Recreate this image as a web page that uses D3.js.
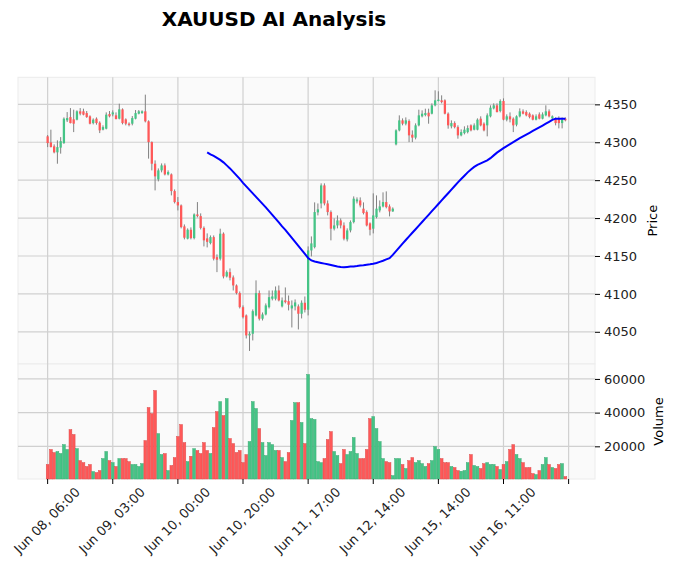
<!DOCTYPE html>
<html>
<head>
<meta charset="utf-8">
<script src="https://cdn.jsdelivr.net/npm/d3@7"></script>
<style>
    body { margin: 0; background: #ffffff; }
    text { font-family: "DejaVu Sans", sans-serif; }
</style>
</head>
<body>
<div id="chart"></div>
<script>
// hourly XAUUSD candles
const opens = [
    4307.8, 4299.8, 4294.6, 4286.7, 4292.9, 4298.9, 4328.9, 4333.2, 4330.2, 4329.8,
    4340.8, 4340.8, 4338.5, 4334.2, 4325.3, 4331.1, 4325.8, 4316.6, 4317.9, 4337.2,
    4336.8, 4335.5, 4331.1, 4343.4, 4330.2, 4324.5, 4324.5, 4331.1, 4337.7, 4338.5,
    4340.8, 4327.6, 4300.2, 4271.7, 4251.0, 4262.9, 4269.5, 4257.6, 4257.6, 4235.6,
    4221.1, 4216.7, 4189.0, 4172.8, 4184.6, 4173.6, 4204.8, 4202.6, 4187.0, 4173.2,
    4167.0, 4174.9, 4148.5, 4146.4, 4179.4, 4123.0, 4128.7, 4121.7, 4111.1, 4101.0,
    4082.5, 4071.6, 4045.2, 4047.4, 4071.6, 4101.0, 4067.2, 4072.9, 4082.5, 4093.6,
    4093.6, 4104.5, 4083.5, 4091.4, 4090.4, 4080.8, 4083.5, 4083.5, 4073.8, 4088.3,
    4079.1, 4157.3, 4161.7, 4207.5, 4219.3, 4243.1, 4219.3, 4207.9, 4186.0, 4190.3,
    4196.9, 4190.3, 4171.9, 4183.7, 4194.7, 4222.0, 4223.3, 4212.4, 4207.9, 4193.0,
    4186.0, 4201.3, 4210.1, 4215.4, 4221.1, 4215.4, 4208.8, 4297.2, 4315.7, 4328.9,
    4324.5, 4328.0, 4310.0, 4306.1, 4322.3, 4334.2, 4335.9, 4339.0, 4337.7, 4348.7,
    4354.4, 4355.3, 4355.3, 4337.7, 4321.0, 4325.3, 4320.0, 4309.1, 4312.1, 4313.4,
    4322.3, 4316.6, 4316.6, 4331.1, 4324.5, 4322.3, 4334.2, 4344.7, 4348.7, 4341.2,
    4354.4, 4329.8, 4334.2, 4331.1, 4323.2, 4334.2, 4340.8, 4339.8, 4337.7, 4335.5,
    4329.8, 4336.8, 4331.1, 4335.5, 4340.8, 4331.5, 4331.1, 4331.1, 4325.3, 4331.1
];
const highs = [
    4309.5, 4316.6, 4297.2, 4302.5, 4306.8, 4332.8, 4339.8, 4345.1, 4343.0, 4342.1,
    4345.1, 4344.3, 4341.2, 4335.5, 4331.5, 4332.8, 4327.6, 4322.3, 4339.4, 4341.2,
    4342.1, 4339.4, 4350.9, 4344.7, 4331.5, 4326.2, 4334.6, 4342.5, 4342.5, 4342.1,
    4362.8, 4328.9, 4301.1, 4276.1, 4265.5, 4272.1, 4272.1, 4262.9, 4258.9, 4237.8,
    4227.7, 4218.0, 4191.6, 4186.4, 4187.7, 4206.2, 4221.1, 4206.2, 4189.0, 4179.8,
    4177.1, 4177.1, 4152.1, 4186.0, 4181.1, 4130.9, 4133.6, 4124.3, 4112.5, 4103.2,
    4084.8, 4072.9, 4050.4, 4079.5, 4117.8, 4104.5, 4075.5, 4087.4, 4104.5, 4104.5,
    4109.8, 4111.1, 4095.3, 4108.5, 4097.9, 4091.4, 4092.7, 4086.1, 4091.4, 4096.6,
    4162.6, 4175.8, 4220.7, 4219.3, 4245.8, 4245.8, 4223.3, 4210.1, 4199.6, 4203.5,
    4199.6, 4194.3, 4186.4, 4196.9, 4228.6, 4227.3, 4227.3, 4220.7, 4210.1, 4194.3,
    4232.6, 4229.9, 4223.3, 4233.9, 4235.2, 4218.0, 4214.1, 4317.0, 4335.5, 4331.5,
    4332.8, 4330.2, 4315.7, 4324.9, 4343.0, 4342.1, 4344.3, 4344.3, 4351.3, 4368.5,
    4367.2, 4361.9, 4356.6, 4339.4, 4328.9, 4327.6, 4322.3, 4317.0, 4321.0, 4322.3,
    4323.6, 4324.9, 4331.5, 4334.2, 4326.2, 4338.1, 4348.7, 4351.3, 4351.3, 4356.6,
    4357.9, 4336.8, 4339.4, 4332.8, 4335.5, 4344.7, 4343.4, 4342.1, 4339.4, 4336.8,
    4336.8, 4339.4, 4339.4, 4348.7, 4343.4, 4335.5, 4332.8, 4334.2, 4332.8, 4332.8
];
const lows = [
    4293.6, 4293.3, 4285.4, 4271.7, 4285.0, 4297.9, 4326.7, 4324.9, 4313.4, 4328.9,
    4335.5, 4335.5, 4332.2, 4323.6, 4323.6, 4323.2, 4312.1, 4315.7, 4317.0, 4332.8,
    4334.2, 4330.2, 4330.2, 4323.6, 4322.3, 4321.0, 4322.3, 4330.2, 4336.8, 4337.5,
    4326.2, 4278.4, 4262.9, 4236.5, 4248.4, 4260.3, 4256.3, 4256.3, 4229.9, 4219.3,
    4210.1, 4186.4, 4171.9, 4171.9, 4171.9, 4171.9, 4200.9, 4185.0, 4162.6, 4161.3,
    4165.3, 4144.1, 4128.7, 4144.1, 4120.4, 4121.7, 4117.8, 4104.5, 4099.3, 4080.8,
    4067.6, 4041.2, 4024.7, 4038.6, 4070.2, 4064.9, 4064.9, 4071.6, 4080.8, 4091.4,
    4091.4, 4090.1, 4082.1, 4087.4, 4078.2, 4055.7, 4078.2, 4053.1, 4067.6, 4075.5,
    4071.6, 4149.4, 4160.0, 4203.5, 4212.8, 4216.7, 4203.5, 4170.6, 4183.7, 4186.4,
    4186.4, 4170.6, 4169.2, 4181.1, 4193.0, 4219.3, 4214.1, 4204.8, 4189.0, 4177.1,
    4179.8, 4199.6, 4207.5, 4214.1, 4212.8, 4202.2, 4208.2, 4295.9, 4314.4, 4322.3,
    4322.3, 4300.2, 4300.2, 4303.8, 4321.0, 4332.8, 4334.2, 4324.5, 4336.8, 4347.4,
    4354.0, 4351.3, 4336.8, 4317.9, 4318.3, 4318.3, 4304.7, 4307.8, 4310.4, 4311.7,
    4314.4, 4315.7, 4315.7, 4321.0, 4314.4, 4307.8, 4332.8, 4343.4, 4339.4, 4339.4,
    4328.9, 4327.6, 4326.2, 4313.4, 4321.0, 4332.8, 4336.8, 4334.2, 4331.5, 4328.9,
    4328.9, 4330.2, 4330.2, 4334.2, 4332.8, 4330.2, 4322.3, 4318.3, 4318.3, 4327.6
];
const closes = [
    4298.9, 4293.6, 4286.7, 4293.6, 4301.5, 4331.1, 4331.9, 4325.3, 4324.5, 4340.8,
    4337.7, 4336.4, 4333.2, 4324.5, 4329.8, 4325.3, 4315.7, 4320.0, 4336.4, 4334.2,
    4339.4, 4330.6, 4343.4, 4325.3, 4324.5, 4322.9, 4331.9, 4338.5, 4340.8, 4340.8,
    4327.6, 4300.2, 4271.7, 4255.0, 4262.9, 4269.5, 4257.6, 4260.7, 4235.6, 4221.1,
    4216.7, 4188.1, 4174.1, 4184.6, 4173.6, 4204.8, 4202.6, 4187.0, 4170.6, 4168.6,
    4174.9, 4146.4, 4145.0, 4179.4, 4123.0, 4128.7, 4121.3, 4111.1, 4101.0, 4082.5,
    4069.3, 4045.2, 4047.4, 4077.2, 4101.0, 4067.2, 4072.9, 4084.8, 4095.7, 4096.6,
    4104.5, 4091.4, 4091.4, 4089.1, 4085.7, 4084.8, 4088.7, 4073.8, 4088.3, 4079.1,
    4157.3, 4166.6, 4207.9, 4211.5, 4243.1, 4219.3, 4207.9, 4186.0, 4190.3, 4196.9,
    4190.3, 4172.8, 4183.7, 4194.7, 4225.6, 4224.6, 4216.7, 4206.6, 4190.3, 4184.6,
    4203.5, 4212.4, 4215.4, 4221.1, 4214.5, 4208.8, 4212.4, 4315.7, 4328.9, 4324.5,
    4328.9, 4309.1, 4306.1, 4322.3, 4335.5, 4337.7, 4338.5, 4334.2, 4348.7, 4355.3,
    4356.2, 4353.0, 4337.7, 4322.3, 4325.3, 4320.0, 4309.1, 4313.4, 4316.6, 4318.7,
    4315.7, 4322.3, 4329.8, 4322.3, 4315.7, 4335.5, 4345.6, 4348.7, 4339.8, 4354.4,
    4329.8, 4334.2, 4330.2, 4322.3, 4334.2, 4340.8, 4337.7, 4335.5, 4333.2, 4329.8,
    4334.2, 4331.1, 4336.8, 4340.8, 4334.2, 4334.2, 4325.3, 4325.3, 4329.8, 4328.9
];
const volumes = [
    9200, 18100, 16300, 16900, 15700, 21000, 18100, 29900, 27000, 18600,
    11500, 10300, 8000, 9200, 5000, 4400, 5600, 12700, 16900, 11500,
    10300, 8000, 12700, 12700, 12700, 10900, 9200, 9200, 8000, 9700,
    23400, 43000, 39400, 53100, 27500, 15100, 15700, 5600, 8600, 13300,
    25800, 32900, 22200, 10900, 14100, 18600, 17500, 15700, 22200, 17500,
    15700, 31100, 40600, 46500, 38200, 48300, 24600, 21600, 16300, 17500,
    10300, 15100, 22800, 46500, 42400, 30500, 22200, 14500, 22200, 21000,
    17500, 17500, 13300, 10900, 16300, 35300, 45900, 45900, 34100, 21600,
    62600, 36400, 35900, 10900, 10300, 12700, 24000, 28700, 16900, 14500,
    9700, 18100, 15100, 16900, 25200, 15700, 12700, 12700, 18100, 36400,
    37600, 30500, 22800, 12700, 10900, 10300, 2600, 12700, 12700, 9200,
    6800, 11500, 13300, 10300, 11500, 9700, 8000, 9700, 11500, 19800,
    18100, 12700, 10300, 10300, 8000, 7400, 5600, 5200, 5600, 10300,
    15100, 8600, 8000, 6800, 9700, 10300, 9200, 9200, 8000, 6200,
    9200, 10900, 18100, 21000, 15100, 12700, 10300, 7400, 7400, 3800,
    3200, 5600, 9200, 13300, 9200, 7400, 6800, 9200, 9700, 2000
];
// AI forecast line, starts at candle 49
const aiLine = [
    null, null, null, null, null, null, null, null, null, null,
    null, null, null, null, null, null, null, null, null, null,
    null, null, null, null, null, null, null, null, null, null,
    null, null, null, null, null, null, null, null, null, null,
    null, null, null, null, null, null, null, null, null,
    4286.7, 4284.0, 4282.0, 4279.4, 4276.8, 4273.5, 4269.5, 4265.5, 4261.0, 4256.3,
    4251.7, 4246.4, 4241.8, 4237.2, 4232.6, 4227.9, 4223.3, 4218.7, 4214.1, 4209.2,
    4204.2, 4199.2, 4194.3, 4189.0, 4184.4, 4179.1, 4173.8, 4168.6, 4163.3, 4158.0,
    4152.7, 4147.4, 4144.1, 4142.8, 4141.8, 4140.8, 4139.9, 4139.0, 4138.1, 4137.1,
    4136.2, 4135.4, 4135.2, 4135.6, 4136.0, 4136.2, 4136.7, 4137.3, 4137.8, 4138.5,
    4139.1, 4139.8, 4140.8, 4142.2, 4143.7, 4145.5, 4147.2, 4151.4, 4156.3, 4161.3,
    4166.2, 4171.1, 4175.8, 4180.6, 4185.3, 4190.1, 4194.8, 4199.6, 4204.3, 4209.1,
    4213.8, 4218.6, 4223.3, 4228.1, 4232.8, 4237.6, 4242.3, 4247.1, 4251.6, 4255.9,
    4260.3, 4264.2, 4267.5, 4270.2, 4272.1, 4274.1, 4276.1, 4279.0, 4282.7, 4286.3,
    4289.3, 4292.2, 4294.9, 4297.5, 4300.1, 4302.8, 4305.4, 4307.8, 4310.2, 4312.5,
    4314.9, 4317.3, 4319.6, 4322.0, 4324.5, 4327.0, 4329.5, 4331.1, 4331.1, 4331.1,
    4330.9
];
const tickLabels = ["Jun 08, 06:00", "Jun 09, 03:00", "Jun 10, 00:00", "Jun 10, 20:00",
    "Jun 11, 17:00", "Jun 12, 14:00", "Jun 15, 14:00", "Jun 16, 11:00", ""];
const tickStep = 20;
const priceTicks = [4050, 4100, 4150, 4200, 4250, 4300, 4350];
const volumeTicks = [20000, 40000, 60000];

const upColor = "#45c486";
const downColor = "#ff5858";

const width = 677, height = 574;
const plot = {left: 18, right: 595, priceTop: 77.3, priceBottom: 364, volBottom: 479};

const svg = d3.select("#chart").append("svg")
    .attr("width", width)
    .attr("height", height);

const n = closes.length;
const xPad = 9.1;
const x = d3.scaleLinear()
    .domain([-xPad, n - 1 + xPad])
    .range([plot.left, plot.right]);
const step = x(1) - x(0);

let lo = d3.min(lows), hi = d3.max(highs);
let r = hi - lo;
const y = d3.scaleLinear()
    .domain([lo - 0.05 * r, hi + 0.05 * r])
    .range([plot.priceBottom, plot.priceTop]);

const yVol = d3.scaleLinear()
    .domain([0.3 * d3.min(volumes), 1.1 * d3.max(volumes)])
    .range([plot.volBottom, plot.priceBottom]);

// panel backgrounds
svg.append("rect")
    .attr("x", plot.left).attr("y", plot.priceTop)
    .attr("width", plot.right - plot.left).attr("height", plot.priceBottom - plot.priceTop)
    .attr("fill", "#fafafa").attr("stroke", "#ececec");
svg.append("rect")
    .attr("x", plot.left).attr("y", plot.priceBottom)
    .attr("width", plot.right - plot.left).attr("height", plot.volBottom - plot.priceBottom)
    .attr("fill", "#fafafa").attr("stroke", "#ececec");

// grid
const xTicks = tickLabels.map((d, i) => i * tickStep);
const grid = svg.append("g").attr("stroke", "#d0d0d0").attr("stroke-width", 1.2);
xTicks.forEach(t => {
    grid.append("line")
        .attr("x1", x(t)).attr("x2", x(t))
        .attr("y1", plot.priceTop).attr("y2", plot.volBottom);
});
priceTicks.forEach(t => {
    grid.append("line")
        .attr("x1", plot.left).attr("x2", plot.right)
        .attr("y1", y(t)).attr("y2", y(t));
});
volumeTicks.forEach(t => {
    grid.append("line")
        .attr("x1", plot.left).attr("x2", plot.right)
        .attr("y1", yVol(t)).attr("y2", yVol(t));
});

// candles
const idx = d3.range(n);
const colorOf = i => closes[i] >= opens[i] ? upColor : downColor;

svg.append("g").selectAll("line")
    .data(idx)
    .join("line")
    .attr("x1", i => x(i)).attr("x2", i => x(i))
    .attr("y1", i => y(highs[i])).attr("y2", i => y(lows[i]))
    .attr("stroke", "#808080")
    .attr("stroke-width", 1);

const bodyW = step * 0.7;
svg.append("g").selectAll("rect")
    .data(idx)
    .join("rect")
    .attr("x", i => x(i) - bodyW / 2)
    .attr("y", i => y(Math.max(opens[i], closes[i])))
    .attr("width", bodyW)
    .attr("height", i => Math.max(0.8, Math.abs(y(opens[i]) - y(closes[i]))))
    .attr("fill", colorOf);

// volume bars
const barW = step * 0.86;
svg.append("g").selectAll("rect")
    .data(idx)
    .join("rect")
    .attr("x", i => x(i) - barW / 2)
    .attr("y", i => yVol(volumes[i]))
    .attr("width", barW)
    .attr("height", i => plot.volBottom - yVol(volumes[i]))
    .attr("fill", colorOf)
    .attr("stroke", i => d3.color(colorOf(i)).darker(0.4))
    .attr("stroke-width", 0.5);

// AI line
const line = d3.line()
    .defined(d => d != null)
    .x((d, i) => x(i))
    .y(d => y(d));
svg.append("path")
    .datum(aiLine)
    .attr("d", line)
    .attr("fill", "none")
    .attr("stroke", "#0000ff")
    .attr("stroke-width", 2);

// right axes
const yAxis = d3.axisRight(y).tickValues(priceTicks).tickFormat(d3.format("d")).tickSize(5).tickPadding(4);
svg.append("g")
    .attr("transform", `translate(${plot.right},0)`)
    .call(yAxis)
    .call(g => g.select(".domain").remove())
    .call(g => g.selectAll("text").attr("font-size", 13).attr("fill", "#222"));

const volAxis = d3.axisRight(yVol).tickValues(volumeTicks).tickFormat(d3.format("d")).tickSize(5).tickPadding(4);
svg.append("g")
    .attr("transform", `translate(${plot.right},0)`)
    .call(volAxis)
    .call(g => g.select(".domain").remove())
    .call(g => g.selectAll("text").attr("font-size", 13).attr("fill", "#222"));

// bottom axis ticks and rotated labels
const xAxisG = svg.append("g");
xTicks.forEach((t, k) => {
    xAxisG.append("line")
        .attr("x1", x(t)).attr("x2", x(t))
        .attr("y1", plot.volBottom).attr("y2", plot.volBottom + 5)
        .attr("stroke", "#000");
    const lab = xAxisG.append("text")
        .text(tickLabels[k])
        .attr("font-size", 13)
        .attr("fill", "#222")
        .attr("text-anchor", "end");
    const w = lab.node().getComputedTextLength();
    const px = x(t) + 0.3535 * (w + 10 - 3);
    lab.attr("transform", `translate(${px},${plot.volBottom + 14}) rotate(-45)`);
});

// axis labels
svg.append("text")
    .text("Price")
    .attr("font-size", 13)
    .attr("text-anchor", "middle")
    .attr("transform", `translate(657,${(plot.priceTop + plot.priceBottom) / 2}) rotate(-90)`);
svg.append("text")
    .text("Volume")
    .attr("font-size", 13)
    .attr("text-anchor", "middle")
    .attr("transform", `translate(663,${(plot.priceBottom + plot.volBottom) / 2}) rotate(-90)`);

// title
svg.append("text")
    .text("XAUUSD AI Analysis")
    .attr("x", 274)
    .attr("y", 26)
    .attr("text-anchor", "middle")
    .attr("font-size", 20)
    .attr("font-weight", "bold");
</script>
</body>
</html>
